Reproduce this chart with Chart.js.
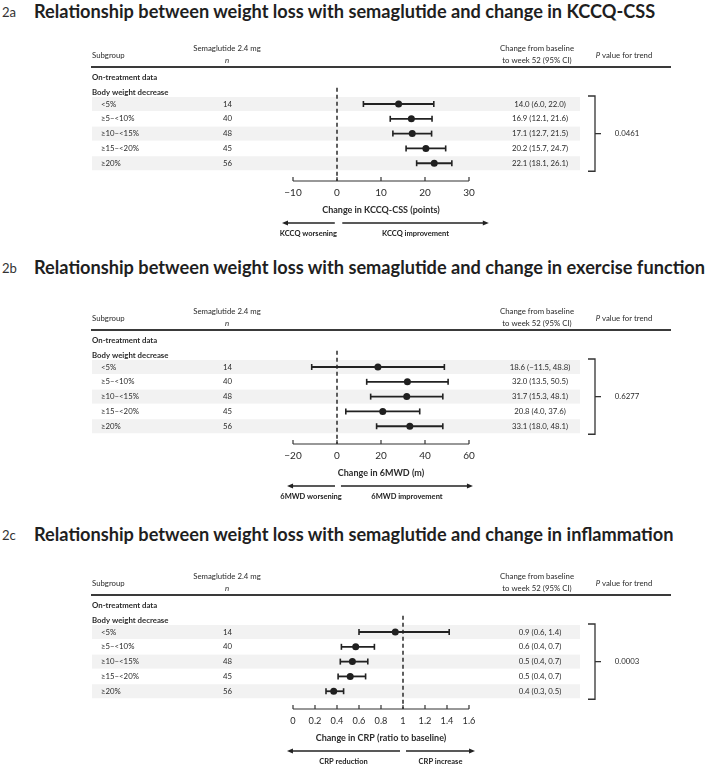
<!DOCTYPE html>
<html><head><meta charset="utf-8">
<script src="https://cdn.jsdelivr.net/npm/chart.js@4.4.1/dist/chart.umd.min.js"></script>
<style>
html,body{margin:0;padding:0;background:#fff;}
body{width:715px;height:764px;position:relative;overflow:hidden;font-family:Lato,'Open Sans',sans-serif;}
.ttl{position:absolute;left:0;white-space:nowrap;color:#1f1f1f;line-height:1;}
.ttl .lab{position:absolute;left:2px;font-weight:400;color:#333;}
.ttl .txt{position:absolute;left:34px;font-weight:700;}
canvas{position:absolute;left:0;}
</style></head><body>
<script>
// ---------- data ----------
const subgroups = ['<5%', '\u22655\u2013<10%', '\u226510\u2013<15%', '\u226515\u2013<20%', '\u226520%'];
const nValues = [14, 40, 48, 45, 56];

const kccqEst  = [14.0, 16.9, 17.1, 20.2, 22.1];
const kccqLow  = [6.0, 12.1, 12.7, 15.7, 18.1];
const kccqHigh = [22.0, 21.6, 21.5, 24.7, 26.1];
const kccqTicks = [-10, 0, 10, 20, 30];
const kccqP = '0.0461';

const mwdEst  = [18.6, 32.0, 31.7, 20.8, 33.1];
const mwdLow  = [-11.5, 13.5, 15.3, 4.0, 18.0];
const mwdHigh = [48.8, 50.5, 48.1, 37.6, 48.1];
const mwdTicks = [-20, 0, 20, 40, 60];
const mwdP = '0.6277';

const crpEst  = [0.93, 0.57, 0.54, 0.52, 0.37];
const crpLow  = [0.60, 0.44, 0.43, 0.41, 0.30];
const crpHigh = [1.42, 0.74, 0.68, 0.66, 0.46];
const crpTicks = [0, 0.2, 0.4, 0.6, 0.8, 1, 1.2, 1.4, 1.6];
const crpP = '0.0003';

const titles = [
  ['2a', 'Relationship between weight loss with semaglutide and change in KCCQ-CSS'],
  ['2b', 'Relationship between weight loss with semaglutide and change in exercise function'],
  ['2c', 'Relationship between weight loss with semaglutide and change in inflammation']
];

// ---------- layout / style ----------
const FONT = "Lato, 'Open Sans', sans-serif";
const W = 715;
const TXT = 7.8;
const fmtNum = v => (v < 0 ? '\u2212' : '') + Math.abs(v).toFixed(1);
const fmtTick = v => (v < 0 ? '\u2212' : '') + String(Math.abs(+v.toFixed(1)));

const panels = [
  {title: titles[0], titleY: 11, lineY: 67, est: kccqEst, low: kccqLow, high: kccqHigh, ticks: kccqTicks, p: kccqP, tickFont: 10,
   ref: 0, axisTitle: 'Change in KCCQ-CSS (points)', arrows: [[-0.5, -12.5, 'KCCQ worsening'], [1.2, 34.5, 'KCCQ improvement']]},
  {title: titles[1], titleY: 267, lineY: 330, est: mwdEst, low: mwdLow, high: mwdHigh, ticks: mwdTicks, p: mwdP, tickFont: 10,
   ref: 0, axisTitle: 'Change in 6MWD (m)', arrows: [[-0.9, -22.7, '6MWD worsening'], [1.8, 61.8, '6MWD improvement']]},
  {title: titles[2], titleY: 534, lineY: 595, est: crpEst, low: crpLow, high: crpHigh, ticks: crpTicks, p: crpP, tickFont: 9.2,
   ref: 1, axisTitle: 'Change in CRP (ratio to baseline)', arrows: [[0.973, -0.055, 'CRP reduction'], [1.027, 1.655, 'CRP increase']]}
];

// title font size fitted so the longest title spans ~672px
const mc = document.createElement('canvas').getContext('2d');
mc.font = `700 100px ${FONT}`;
const longest = Math.max(...titles.map(t => mc.measureText(t[1]).width));
const titleSize = Math.min(20, 100 * 672 / longest);

function drawArrow(ctx, x0, x1, yy) {
  const dir = Math.sign(x1 - x0);
  ctx.beginPath(); ctx.moveTo(x0, yy); ctx.lineTo(x1 - dir * 5, yy); ctx.stroke();
  ctx.beginPath(); ctx.moveTo(x1, yy); ctx.lineTo(x1 - dir * 6, yy - 2.6); ctx.lineTo(x1 - dir * 6, yy + 2.6); ctx.closePath(); ctx.fill();
}

function tablePlugin(P) {
  return {
    id: 'forestTable',
    beforeDatasetsDraw(chart) {
      const {ctx, chartArea: a, scales: {x, y}} = chart;
      ctx.save();
      // row shading
      ctx.fillStyle = '#f2f2f2';
      subgroups.forEach((s, i) => { if (i % 2 === 0) { const py = y.getPixelForValue(i); ctx.fillRect(92, py - 7, 488, 14); } });
      // header
      ctx.fillStyle = '#2b2b2b'; ctx.textBaseline = 'middle';
      ctx.font = `${TXT}px ${FONT}`;
      ctx.textAlign = 'left'; ctx.fillText('Subgroup', 92, a.top - 12);
      ctx.textAlign = 'center';
      ctx.fillText('Semaglutide 2.4 mg', 227, a.top - 19);
      ctx.fillText('Change from baseline', 537, a.top - 19);
      ctx.fillText('to week 52 (95% CI)', 537, a.top - 7);
      ctx.font = `italic ${TXT}px ${FONT}`; ctx.fillText('n', 227, a.top - 7);
      // P value for trend
      ctx.font = `italic ${TXT}px ${FONT}`; const wP = ctx.measureText('P').width;
      ctx.font = `${TXT}px ${FONT}`; const wR = ctx.measureText(' value for trend').width;
      const sx = 624 - (wP + wR) / 2;
      ctx.textAlign = 'left';
      ctx.font = `italic ${TXT}px ${FONT}`; ctx.fillText('P', sx, a.top - 12);
      ctx.font = `${TXT}px ${FONT}`; ctx.fillText(' value for trend', sx + wP, a.top - 12);
      // header rule
      ctx.strokeStyle = '#3a3a3a'; ctx.lineWidth = 1.8;
      ctx.beginPath(); ctx.moveTo(91, a.top); ctx.lineTo(671, a.top); ctx.stroke();
      // section labels
      ctx.font = `700 ${TXT}px ${FONT}`; ctx.textAlign = 'left';
      ctx.fillText('On-treatment data', 92, y.getPixelForValue(-1.8));
      ctx.fillText('Body weight decrease', 92, y.getPixelForValue(-0.8));
      // rows
      ctx.font = `${TXT}px ${FONT}`;
      subgroups.forEach((s, i) => {
        const py = y.getPixelForValue(i);
        ctx.textAlign = 'left'; ctx.fillText(s, 101, py);
        ctx.fillText(String(nValues[i]), 223, py);
        ctx.textAlign = 'center';
        ctx.fillText(`${fmtNum(P.est[i])} (${fmtNum(P.low[i])}, ${fmtNum(P.high[i])})`, 540, py);
      });
      // bracket
      const b0 = y.getPixelForValue(0) - 8, b1 = y.getPixelForValue(4) + 8, bm = y.getPixelForValue(2);
      ctx.strokeStyle = '#333'; ctx.lineWidth = 1.3;
      ctx.beginPath(); ctx.moveTo(588, b0); ctx.lineTo(595, b0); ctx.lineTo(595, b1); ctx.lineTo(588, b1); ctx.stroke();
      ctx.beginPath(); ctx.moveTo(595, bm); ctx.lineTo(601, bm); ctx.stroke();
      ctx.textAlign = 'center'; ctx.fillText(P.p, 627, bm);
      // reference dashed line
      const rx = x.getPixelForValue(P.ref);
      ctx.strokeStyle = '#2b2b2b'; ctx.lineWidth = 1.5; ctx.setLineDash([4, 3]);
      ctx.beginPath(); ctx.moveTo(rx, y.getPixelForValue(-1.1)); ctx.lineTo(rx, a.bottom); ctx.stroke();
      ctx.setLineDash([]);
      // x axis
      const x0 = x.getPixelForValue(P.ticks[0]), x1 = x.getPixelForValue(P.ticks[P.ticks.length - 1]);
      ctx.strokeStyle = '#333'; ctx.lineWidth = 1.2;
      ctx.beginPath(); ctx.moveTo(x0, a.bottom); ctx.lineTo(x1, a.bottom); ctx.stroke();
      ctx.font = `${P.tickFont}px ${FONT}`; ctx.fillStyle = '#2b2b2b';
      P.ticks.forEach(t => {
        const px = x.getPixelForValue(t);
        ctx.beginPath(); ctx.moveTo(px, a.bottom); ctx.lineTo(px, a.bottom - 4); ctx.stroke();
        ctx.fillText(fmtTick(t), px, a.bottom + 12);
      });
      ctx.font = `700 9px ${FONT}`;
      ctx.fillText(P.axisTitle, (x0 + x1) / 2, a.bottom + 29);
      // direction arrows
      ctx.strokeStyle = '#222'; ctx.fillStyle = '#222'; ctx.lineWidth = 1.6;
      ctx.font = `700 7.5px ${FONT}`;
      P.arrows.forEach(([v0, v1, lab]) => {
        const p0 = x.getPixelForValue(v0), p1 = x.getPixelForValue(v1);
        drawArrow(ctx, p0, p1, a.bottom + 42);
        ctx.fillText(lab, (p0 + p1) / 2, a.bottom + 53);
      });
      ctx.restore();
    }
  };
}

panels.forEach(P => {
  // title
  const d = document.createElement('div');
  d.className = 'ttl';
  d.style.top = (P.titleY - titleSize / 2) + 'px';
  d.style.height = titleSize + 'px';
  d.innerHTML = `<span class="lab" style="font-size:${(titleSize * 0.72).toFixed(1)}px;top:${(titleSize * 0.2).toFixed(1)}px">${P.title[0]}</span><span class="txt" style="font-size:${titleSize.toFixed(2)}px">${P.title[1]}</span>`;
  document.body.appendChild(d);

  // chart
  const H = 210, top = 32, areaH = 114;
  const cv = document.createElement('canvas');
  cv.width = W; cv.height = H;
  cv.style.top = (P.lineY - top) + 'px';
  document.body.appendChild(cv);

  const datasets = subgroups.map((s, i) => ({
    data: [{x: P.low[i], y: i}, {x: P.high[i], y: i}],
    showLine: true, borderColor: '#222', borderWidth: 1.8,
    pointStyle: 'line', rotation: 90, pointRadius: 3, pointBorderWidth: 1.6,
    pointBorderColor: '#222', pointHoverRadius: 3
  }));
  datasets.push({
    data: P.est.map((v, i) => ({x: v, y: i})),
    pointStyle: 'circle', pointRadius: 3.5, backgroundColor: '#1f1f1f', borderColor: '#1f1f1f', borderWidth: 0
  });

  new Chart(cv, {
    type: 'scatter',
    data: {datasets},
    options: {
      responsive: false, animation: false, events: [],
      layout: {padding: {left: 293, right: W - 469, top: top, bottom: H - top - areaH}},
      plugins: {legend: {display: false}, tooltip: {enabled: false}},
      scales: {
        x: {type: 'linear', display: false, min: P.ticks[0], max: P.ticks[P.ticks.length - 1]},
        y: {type: 'linear', display: false, reverse: true, min: -2.5, max: 5.2}
      }
    },
    plugins: [tablePlugin(P)]
  });
});
</script>
</body></html>
